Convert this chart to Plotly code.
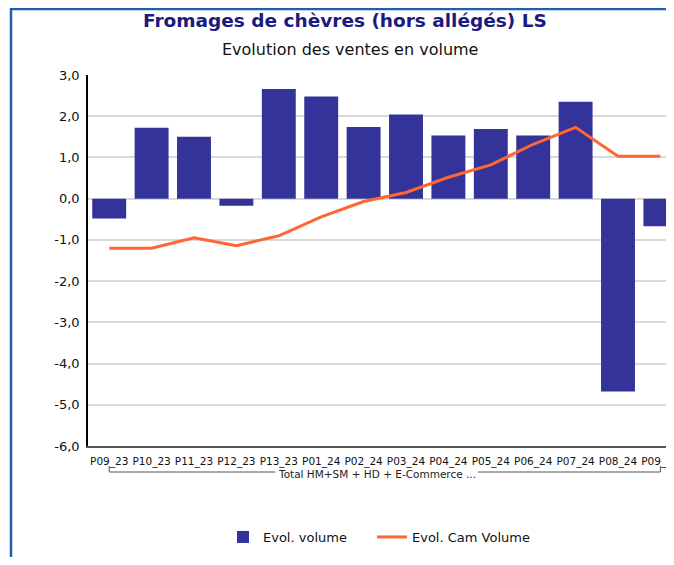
import plotly.graph_objects as go

categories = ["P09_23", "P10_23", "P11_23", "P12_23", "P13_23", "P01_24", "P02_24",
              "P03_24", "P04_24", "P05_24", "P06_24", "P07_24", "P08_24", "P09_24"]
evol_volume = [-0.48, 1.72, 1.50, -0.17, 2.66, 2.48, 1.74, 2.04, 1.53, 1.69, 1.53, 2.35, -4.68, -0.67]
evol_cam_volume = [-1.20, -1.20, -0.95, -1.14, -0.90, -0.44, -0.07, 0.15, 0.52, 0.82, 1.32, 1.73, 1.03, 1.03]
y_tick_values = [3, 2, 1, 0, -1, -2, -3, -4, -5, -6]
y_tick_labels = ["3,0", "2,0", "1,0", "0,0", "-1,0", "-2,0", "-3,0", "-4,0", "-5,0", "-6,0"]
group_label = "Total HM+SM + HD + E-Commerce ..."

# page body has an 8px default margin: design in page pixels, convert to figure pixels
OFF = 8
W, H = 674 - 2 * OFF, 565 - 2 * OFF
ML, MR, MT, MB = 80, 0, 67, H - 438
PW, PH = W - ML - MR, H - MT - MB
PITCH = 42.4  # px per category


def px(xp):
    return ((xp - OFF) - ML) / PW


def py(yp):
    return (H - MB - (yp - OFF)) / PH


FONT = "DejaVu Sans, Verdana, sans-serif"
FRAME = "#1f5fae"
BRACKET = "#555555"

fig = go.Figure()
fig.add_trace(go.Bar(x=categories, y=evol_volume, name="Evol. volume",
                     marker=dict(color="#333399", line=dict(width=0)), legend="legend"))
fig.add_trace(go.Scatter(x=categories, y=evol_cam_volume, name="Evol. Cam Volume",
                         mode="lines", line=dict(color="#ff6633", width=3), legend="legend2"))

shapes = [
    # outer blue frame (top and left)
    dict(type="line", xref="paper", yref="paper", x0=px(11), x1=px(W + 40), y0=py(OFF + 1), y1=py(OFF + 1),
         line=dict(color=FRAME, width=2.5)),
    dict(type="line", xref="paper", yref="paper", x0=px(11), x1=px(11), y0=py(OFF), y1=py(H + 40),
         line=dict(color=FRAME, width=2.5)),
    # group bracket
    dict(type="line", xref="x", yref="paper", x0=0, x1=0, y0=py(466), y1=py(472),
         line=dict(color=BRACKET, width=1)),
    dict(type="line", xref="x", yref="paper", x0=0, x1=3.92, y0=py(472), y1=py(472),
         line=dict(color=BRACKET, width=1)),
    dict(type="line", xref="x", yref="paper", x0=8.70, x1=13, y0=py(472), y1=py(472),
         line=dict(color=BRACKET, width=1)),
    dict(type="line", xref="x", yref="paper", x0=13, x1=13, y0=py(466), y1=py(472),
         line=dict(color=BRACKET, width=1)),
]

annotations = [
    dict(text=group_label, xref="x", yref="paper", x=6.31, y=py(474), showarrow=False,
         font=dict(family=FONT, size=10.5, color="#222222"), xanchor="center", yanchor="middle"),
    dict(text="<b>Fromages de chèvres (hors allégés) LS</b>", xref="paper", yref="paper",
         x=px(345), y=py(21), showarrow=False, xanchor="center", yanchor="middle",
         font=dict(family=FONT, size=18.5, color="#1a1a80")),
    dict(text="Evolution des ventes en volume", xref="paper", yref="paper",
         x=px(350), y=py(49), showarrow=False, xanchor="center", yanchor="middle",
         font=dict(family=FONT, size=16, color="#111111")),
]

legend_font = dict(family=FONT, size=13, color="#111111")
fig.update_layout(
    width=W, height=H,
    margin=dict(l=ML, r=MR, t=MT, b=MB, pad=0, autoexpand=False),
    paper_bgcolor="white", plot_bgcolor="white",
    bargap=0.2,
    font=dict(family=FONT, size=12, color="#111111"),
    shapes=shapes,
    annotations=annotations,
    legend=dict(orientation="h", x=px(223), y=py(537), xanchor="left", yanchor="middle",
                font=legend_font, itemwidth=30, bgcolor="rgba(0,0,0,0)"),
    legend2=dict(orientation="h", x=px(372), y=py(537), xanchor="left", yanchor="middle",
                 font=legend_font, itemwidth=30, bgcolor="rgba(0,0,0,0)"),
    showlegend=True,
)
fig.update_xaxes(type="category", range=[-0.5, -0.5 + PW / PITCH], automargin=False,
                 showline=True, linecolor="#555555", linewidth=1.5,
                 showgrid=False, ticks="", tickangle=0, ticklabelstandoff=5,
                 tickfont=dict(family=FONT, size=10.5, color="#111111"))
fig.update_yaxes(range=[-6, 3], tickvals=y_tick_values, ticktext=y_tick_labels, automargin=False,
                 showline=True, linecolor="#000000", linewidth=1.5,
                 showgrid=True, gridcolor="#d9d9d9", gridwidth=1.5, zeroline=False,
                 ticks="", ticklabelstandoff=4,
                 tickfont=dict(family=FONT, size=13, color="#111111"))

fig.write_html("out.html")
